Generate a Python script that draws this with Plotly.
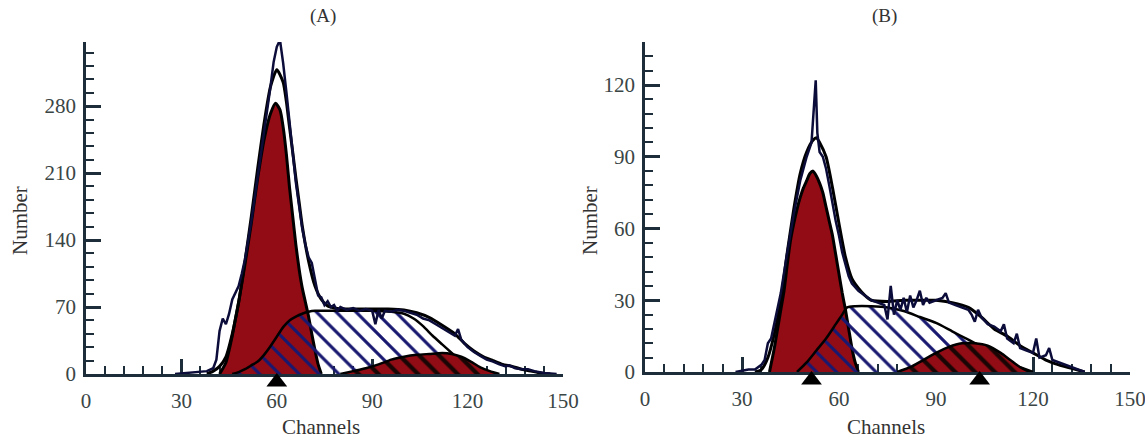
import plotly.graph_objects as go

# ---------------- Panel A data (channel, number) ----------------
A_RAW_CH = [28,32,35,38,40,41,42,43,44,45,46,47,48,49,50,52,54,56,58,59,60,61,62,63,64,65,66,67,68,69,70,71,72,73,74,75,76,77,78,79,80,82,84,86,88,90,91,92,93,94,96,98,100,102,104,106,108,110,112,114,116,117,118,120,122,124,126,128,130,132,133,135,137,139,141,144,148]
A_RAW_N = [0,1,2,3,6,15,45,58,52,63,78,86,92,105,120,160,205,255,300,326,342,349,325,295,262,232,200,176,152,135,122,116,100,82,80,72,76,70,72,66,70,67,69,66,68,66,52,67,58,66,65,67,66,64,62,58,56,52,48,44,40,47,36,28,23,19,15,13,10,8,9,6,5,5,3,1,0]

A_FIT_CH = [38,40,42,44,46,48,50,52,54,56,58,60,62,63,64,65,66,67,68,70,72,74,76,78,80,85,90,95,100,104,108,112,116,119,122,125,128,131,134,137,140,143,146]
A_FIT_N = [0,3,8,18,42,75,118,165,215,262,300,318,305,285,258,232,205,180,155,118,92,78,71,69,68,68,68,68,67,64,59,51,42,32,24,18,14,10,8,5,3,1,0]

A_G1_CH = [42,44,46,47,48,50,52,54,56,58,59.6,61,62,63,64,65,66,67,68,69,70,71,72,73,74]
A_G1_N = [0,12,40,58,75,115,158,205,245,272,283,276,258,230,195,165,135,110,90,75,60,42,25,10,0]

A_S_CH = [46,48,50,52,54,56,58,60,62,64,66,68,70,72,80,90,96,100,103,106,109,112,115,118,121,124,127]
A_S_N = [0,2,5,9,13,20,29,39,49,56,60,63,65,66,66,66,65,63,58,50,40,31,22,13,6,2,0]

A_G2_CH = [80,84,88,92,96,100,104,108,112,115,118,121,124,127,130]
A_G2_N = [0,3,6,10,15,18,20,21,22,21,18,13,7,3,0]

A_MARK_CH = [60]

# ---------------- Panel B data ----------------
B_RAW_CH = [28,32,34,36,37,38,39,40,42,44,46,48,50,51.5,52.3,52.8,53.3,54,55,56,57,58,59,60,61,62,63,64,66,68,70,72,74,75,76,77,78,79,80,81,82,83,84,85,86,87,88,90,92,93,94,96,98,100,101,102,103,104,106,108,110,111,112,114,115,116,118,120,121,122,124,125,126,128,130,132,134,136]
B_RAW_N = [0,1,1,3,5,12,14,20,33,50,66,80,90,96,110,122,100,92,90,85,78,70,63,57,50,45,40,37,34,32,30,29,28,22,36,24,30,26,31,25,32,27,30,34,28,31,29,30,31,33,29,28,27,26,24,21,26,23,20,19,17,20,14,12,16,10,9,8,14,6,7,10,5,4,3,2,1,0]

B_FIT_CH = [34,36,38,40,42,44,46,48,50,52,53,54,56,58,60,62,64,66,68,70,75,80,85,90,95,100,104,108,112,116,120,124,128,132,136]
B_FIT_N = [0,1,6,16,30,50,68,83,92,97,98,96,90,77,62,48,39,35,32,30,29.5,30,30,30,29,27,23,18,15,11,8,5,3,1.5,0]

B_G1_CH = [38.5,40,41,42,43,44,45,46,47,48,49,50,51,52,53,54,55,56,57,58,59,60,61,62,63,64,65,66]
B_G1_N = [0,10,18,26,34,45,55,62,68,73,77,80,83,84,82,79,75,69,63,57,49,41,33,26,18,10,4,0]

B_S_CH = [47,50,53,56,59,61,62.5,65,70,75,80,85,90,95,100,104,108,112,116,120]
B_S_N = [0,4,9,14,20,24,27,27.5,27.5,27,25.5,23,20.5,17,13.5,10.5,7,4,2,0]

B_G2_CH = [78,82,86,90,94,98,102,106,110,113,116,119]
B_G2_N = [0,2,5,8,10.5,12,12,11,8,5,2,0]

B_MARK_CH = [51.5, 103.5]

PANEL_TITLES = ["(A)", "(B)"]
X_TICKS = [0, 30, 60, 90, 120, 150]
A_Y_TICKS = [0, 70, 140, 210, 280]
B_Y_TICKS = [0, 30, 60, 90, 120]

RED = "rgb(145,12,20)"
NAVY = "#181870"
AXC = "#1d2d3a"
TXT = "#3a4545"
FONT = "Liberation Serif"

W, H = 1145, 440
def px(x):
    return x / W
def py(y):
    return 1 - y / H

fig = go.Figure()

def add_panel(xa, ya, ma, raw_ch, raw_n, fit_ch, fit_n, g1_ch, g1_n, s_ch, s_n, g2_ch, g2_n, mark_ch):
    common = dict(xaxis=xa, yaxis=ya, showlegend=False, hoverinfo="skip")
    # G0/G1 peak
    fig.add_trace(go.Scatter(x=g1_ch, y=g1_n, mode="lines", fill="tozeroy",
                             fillcolor=RED, line=dict(color="black", width=3, shape="spline", smoothing=0.6), **common))
    # S phase
    fig.add_trace(go.Scatter(x=s_ch, y=s_n, mode="lines", fill="tozeroy",
                             fillcolor="rgba(0,0,0,0)",
                             fillpattern=dict(shape="\\", fgcolor=NAVY, fgopacity=1, bgcolor="rgba(0,0,0,0)", size=14, solidity=0.22),
                             line=dict(color="black", width=2.5, shape="spline", smoothing=0.6), **common))
    # G2/M peak
    fig.add_trace(go.Scatter(x=g2_ch, y=g2_n, mode="lines", fill="tozeroy",
                             fillcolor=RED,
                             fillpattern=dict(shape="\\", fgcolor="#1a0505", fgopacity=1, bgcolor=RED, size=14, solidity=0.3),
                             line=dict(color="black", width=2.5, shape="spline", smoothing=0.6), **common))
    # fitted envelope
    fig.add_trace(go.Scatter(x=fit_ch, y=fit_n, mode="lines",
                             line=dict(color="black", width=3, shape="spline", smoothing=0.6), **common))
    # raw histogram
    fig.add_trace(go.Scatter(x=raw_ch, y=raw_n, mode="lines",
                             line=dict(color="#0c0c3a", width=2.5), **common))
    # peak markers (in a thin strip axis just below the x axis)
    fig.add_trace(go.Scatter(x=mark_ch, y=[0.5] * len(mark_ch), mode="markers",
                             xaxis=xa, yaxis=ma, showlegend=False, hoverinfo="skip",
                             marker=dict(symbol="triangle-up", size=18, color="black")))

add_panel("x", "y", "y3", A_RAW_CH, A_RAW_N, A_FIT_CH, A_FIT_N, A_G1_CH, A_G1_N, A_S_CH, A_S_N, A_G2_CH, A_G2_N, A_MARK_CH)
add_panel("x2", "y2", "y4", B_RAW_CH, B_RAW_N, B_FIT_CH, B_FIT_N, B_G1_CH, B_G1_N, B_S_CH, B_S_N, B_G2_CH, B_G2_N, B_MARK_CH)

def xaxis(domain, anchor):
    return dict(domain=domain, anchor=anchor, range=[0, 150], tickmode="array", tickvals=X_TICKS,
                showline=True, linecolor=AXC, linewidth=2.5, ticks="inside", ticklen=15, tickwidth=2.5,
                tickcolor=AXC, showgrid=False, zeroline=False, layer="below traces", automargin=False,
                ticklabeloverflow="allow",
                tickfont=dict(family=FONT, size=21, color=TXT), ticklabelstandoff=6,
                minor=dict(dtick=6, tick0=0, ticks="inside", ticklen=8, tickwidth=2, tickcolor=AXC, showgrid=False))

def yaxis(domain, anchor, rng, ticks, minor_dt):
    return dict(domain=domain, anchor=anchor, range=rng, tickmode="array", tickvals=ticks,
                showline=True, linecolor=AXC, linewidth=2.5, ticks="inside", ticklen=15, tickwidth=2.5,
                tickcolor=AXC, showgrid=False, zeroline=False, layer="below traces", automargin=False,
                ticklabeloverflow="allow",
                tickfont=dict(family=FONT, size=21, color=TXT), ticklabelstandoff=3,
                minor=dict(dtick=minor_dt, tick0=0, ticks="inside", ticklen=8, tickwidth=2, tickcolor=AXC, showgrid=False))

def strip(domain, anchor):
    return dict(domain=domain, anchor=anchor, range=[0, 1], visible=False, fixedrange=True)

fig.update_layout(
    width=W, height=H, margin=dict(l=0, r=0, t=0, b=0, autoexpand=False),
    paper_bgcolor="white", plot_bgcolor="rgba(0,0,0,0)",
    xaxis=xaxis([px(86), px(563)], "y"),
    yaxis=yaxis([py(374), py(42)], "x", [0, 347], A_Y_TICKS, 14),
    xaxis2=xaxis([px(645), px(1130)], "y2"),
    yaxis2=yaxis([py(372), py(42)], "x2", [0, 138], B_Y_TICKS, 6),
    yaxis3=strip([py(392), py(372)], "x"),
    yaxis4=strip([py(390), py(370)], "x2"),
)

ann = []
for t, xc in zip(PANEL_TITLES, [323, 884]):
    ann.append(dict(text=t, x=px(xc), y=py(16), xref="paper", yref="paper", showarrow=False,
                    xanchor="center", yanchor="middle", font=dict(family=FONT, size=19, color="#333")))
for xc in [321, 886]:
    ann.append(dict(text="Channels", x=px(xc), y=py(427), xref="paper", yref="paper", showarrow=False,
                    xanchor="center", yanchor="middle", font=dict(family=FONT, size=21, color="#333")))
for xc in [20, 590]:
    ann.append(dict(text="Number", x=px(xc), y=py(221), xref="paper", yref="paper", showarrow=False,
                    xanchor="center", yanchor="middle", textangle=-90, font=dict(family=FONT, size=21, color="#333")))
fig.update_layout(annotations=ann)

fig.write_html("out.html", config={"displayModeBar": False},
               post_script="document.body.style.margin='0px';")
